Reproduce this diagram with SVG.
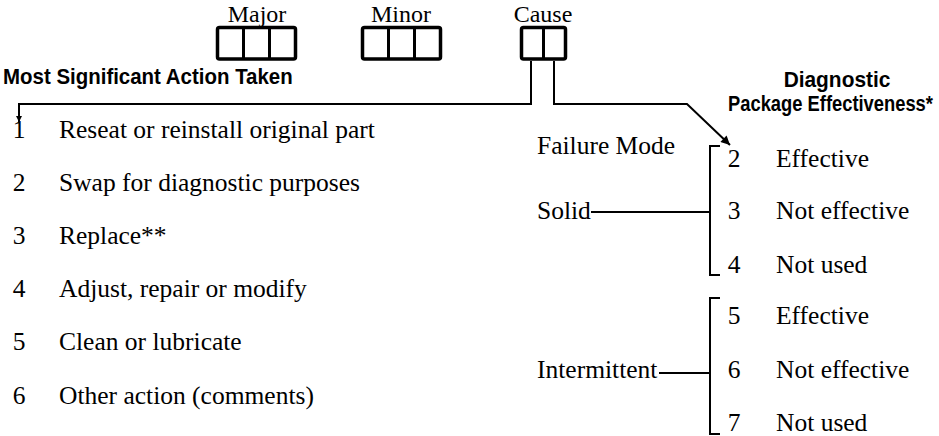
<svg xmlns="http://www.w3.org/2000/svg" width="939" height="436" viewBox="0 0 939 436">
<style>
.bg{fill:#fff}
.box{fill:#fff;stroke:#000;stroke-width:3.5}
.div{stroke:#000;stroke-width:3}
.lbl{font-family:"Liberation Serif","Times New Roman",serif;font-size:24px;fill:#000}
.txt{font-family:"Liberation Serif","Times New Roman",serif;font-size:25.5px;fill:#000}
.num{font-family:"Liberation Serif","Times New Roman",serif;font-size:25.5px;fill:#000;text-anchor:middle}
.hd{font-family:"Liberation Sans Narrow","Liberation Sans",Arial,sans-serif;font-weight:bold;font-size:22px;fill:#000}
.ln{fill:none;stroke:#000;stroke-width:2}
.br{fill:none;stroke:#000;stroke-width:2}
</style>
<defs>
<marker id="arr" viewBox="0 0 10 10" refX="10" refY="5" markerWidth="14" markerHeight="9" markerUnits="userSpaceOnUse" orient="auto">
<path d="M0,0 L10,5 L0,10 z" fill="#000"/>
</marker>
<marker id="arrS" viewBox="0 0 10 10" refX="10" refY="5" markerWidth="11" markerHeight="6" markerUnits="userSpaceOnUse" orient="auto">
<path d="M0,0 L10,5 L0,10 z" fill="#000"/>
</marker>
</defs>
<rect class="bg" x="0" y="0" width="939" height="436"/>

<g id="major">
<text class="lbl" x="257" y="22" text-anchor="middle">Major</text>
<rect class="box" x="217.5" y="27.5" width="78" height="31.5" rx="2"/>
<line class="div" x1="243.5" y1="27.5" x2="243.5" y2="59"/>
<line class="div" x1="269.5" y1="27.5" x2="269.5" y2="59"/>
</g>

<g id="minor">
<text class="lbl" x="401" y="22" text-anchor="middle">Minor</text>
<rect class="box" x="362.5" y="27.5" width="78" height="31.5" rx="2"/>
<line class="div" x1="388.5" y1="27.5" x2="388.5" y2="59"/>
<line class="div" x1="414.5" y1="27.5" x2="414.5" y2="59"/>
</g>

<g id="cause">
<text class="lbl" x="543" y="22" text-anchor="middle">Cause</text>
<rect class="box" x="521.5" y="27.5" width="44" height="31.5" rx="2"/>
<line class="div" x1="543.5" y1="27.5" x2="543.5" y2="59"/>
</g>

<g id="connectors">
<path class="ln" d="M531,61 V104 H19 V122" marker-end="url(#arrS)"/>
<path class="ln" d="M554,61 V104 H687 L730,145" marker-end="url(#arr)"/>
<path class="br" d="M720,146 H710 V275 H720"/>
<path class="br" d="M720,298 H710 V434 H720"/>
<line class="ln" x1="591" y1="212" x2="710" y2="212"/>
<line class="ln" x1="659" y1="373" x2="710" y2="373"/>
</g>

<g id="action-heading">
<text class="hd" transform="translate(3,84) scale(0.93,1)" x="0" y="0">Most Significant Action Taken</text>
</g>

<g id="action-list">
<text class="num" x="19" y="138">1</text><text class="txt" x="59" y="138">Reseat or reinstall original part</text>
<text class="num" x="19" y="191">2</text><text class="txt" x="59" y="191">Swap for diagnostic purposes</text>
<text class="num" x="19" y="244">3</text><text class="txt" x="59" y="244">Replace**</text>
<text class="num" x="19" y="297">4</text><text class="txt" x="59" y="297">Adjust, repair or modify</text>
<text class="num" x="19" y="350">5</text><text class="txt" x="59" y="350">Clean or lubricate</text>
<text class="num" x="19" y="404">6</text><text class="txt" x="59" y="404">Other action (comments)</text>
</g>

<g id="diag-heading">
<text class="hd" transform="translate(837,87) scale(0.95,1)" x="0" y="0" text-anchor="middle">Diagnostic</text>
<text class="hd" transform="translate(728,111) scale(0.834,1)" x="0" y="0">Package Effectiveness*</text>
</g>

<g id="failure-mode">
<text class="txt" x="537" y="154">Failure Mode</text>
</g>

<g id="solid">
<text class="txt" x="537" y="219">Solid</text>
</g>

<g id="intermittent">
<text class="txt" x="537" y="378">Intermittent</text>
</g>

<g id="solid-options">
<text class="num" x="734" y="167">2</text><text class="txt" x="776" y="167">Effective</text>
<text class="num" x="734" y="219">3</text><text class="txt" x="776" y="219">Not effective</text>
<text class="num" x="734" y="273">4</text><text class="txt" x="776" y="273">Not used</text>
</g>

<g id="intermittent-options">
<text class="num" x="734" y="324">5</text><text class="txt" x="776" y="324">Effective</text>
<text class="num" x="734" y="378">6</text><text class="txt" x="776" y="378">Not effective</text>
<text class="num" x="734" y="431">7</text><text class="txt" x="776" y="431">Not used</text>
</g>
</svg>
